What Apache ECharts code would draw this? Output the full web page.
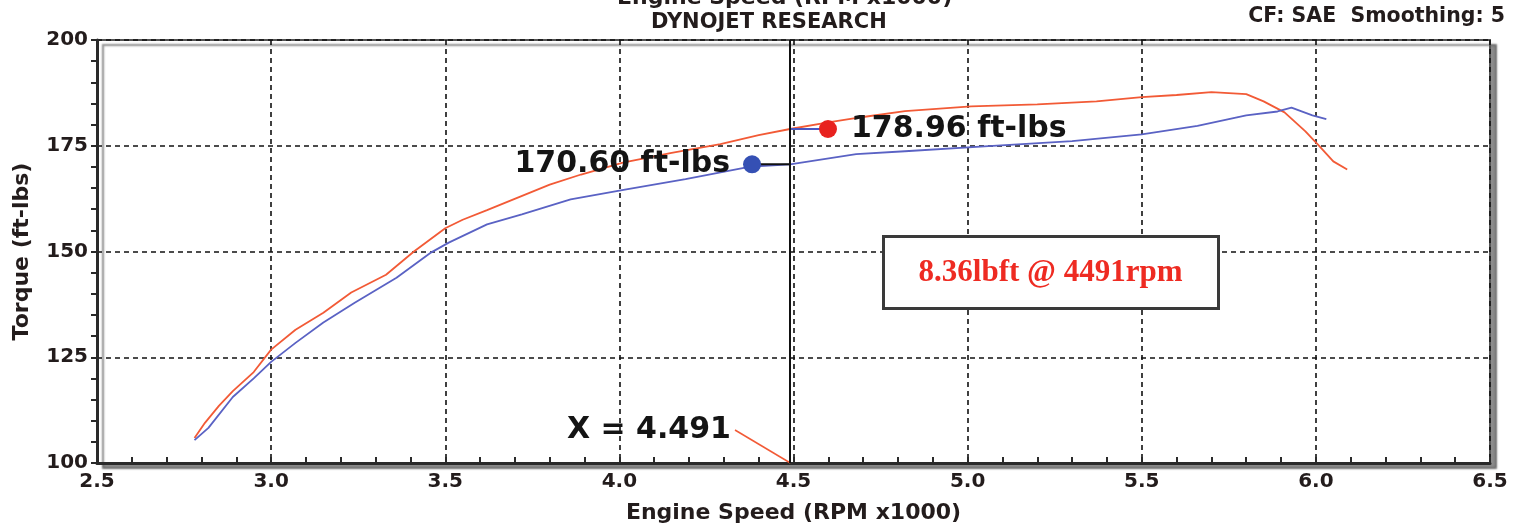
<!DOCTYPE html>
<html>
<head>
<meta charset="utf-8">
<script src="https://cdn.jsdelivr.net/npm/echarts@6/dist/echarts.min.js"></script>
<style>html,body{margin:0;padding:0;background:#fff}#c{width:1536px;height:525px}</style>
</head>
<body>
<div id="c"></div>
<script>
// ---- data ----
const redRpm = [2.78,2.81,2.85,2.89,2.95,3.00,3.07,3.15,3.23,3.33,3.41,3.50,3.55,3.62,3.71,3.80,3.89,4.01,4.15,4.29,4.40,4.49,4.60,4.70,4.82,5.01,5.20,5.37,5.50,5.60,5.70,5.80,5.85,5.91,5.97,6.01,6.05,6.09];
const redTq  = [105.9,109.5,113.5,117.0,121.5,126.8,131.5,135.5,140.3,144.5,150.0,155.5,157.5,159.8,162.8,165.8,168.2,171.0,173.3,175.4,177.5,178.96,180.5,181.8,183.2,184.3,184.8,185.5,186.5,187.0,187.7,187.2,185.5,182.9,178.4,174.9,171.3,169.4];
const blueRpm = [2.78,2.82,2.89,2.95,3.00,3.07,3.15,3.24,3.36,3.46,3.51,3.62,3.72,3.86,4.02,4.19,4.38,4.49,4.68,4.82,5.06,5.30,5.50,5.66,5.80,5.89,5.93,5.99,6.03];
const blueTq  = [105.4,108.3,115.6,120.0,123.9,128.4,133.2,137.9,143.8,149.8,152.1,156.4,158.8,162.3,164.7,167.1,170.1,170.6,173.0,173.7,174.9,176.1,177.7,179.7,182.2,183.1,184.0,182.2,181.3];
const cursorX = 4.491;
const cursorVals = [170.60, 178.96];          // blue, red readings at cursor
const cursorLabels = ['170.60 ft-lbs', '178.96 ft-lbs'];
const dotRpm = [4.381, 4.599];                 // where the reading dots are drawn
const xLabelAnchor = [4.332, 107.8];           // start of "X = 4.491" leader
const xTicks = [2.5, 3.0, 3.5, 4.0, 4.5, 5.0, 5.5, 6.0, 6.5];
const yTicks = [100, 125, 150, 175, 200];
const deltaText = '8.36lbft @ 4491rpm';

const FONT = 'DejaVu Sans';
const TXT = '#231c1c';
const chart = echarts.init(document.getElementById('c'));
const zip = (a, b) => a.map((v, i) => [v, b[i]]);

const option = {
  animation: false,
  backgroundColor: '#fff',
  grid: {
    left: 97, right: 46, top: 40, bottom: 62,
    outerBoundsMode: 'none',
    show: true, backgroundColor: '#fff',
    borderColor: '#555', borderWidth: 2,
    shadowColor: 'rgba(0,0,0,0.45)', shadowOffsetX: 6, shadowOffsetY: 5, shadowBlur: 2
  },
  xAxis: {
    type: 'value', min: xTicks[0], max: xTicks[xTicks.length - 1], interval: 0.5,
    name: 'Engine Speed (RPM x1000)', nameLocation: 'middle', nameGap: 39,
    nameTextStyle: { fontFamily: FONT, fontWeight: 'bold', fontSize: 22, color: TXT },
    axisLine: { show: true, lineStyle: { color: '#2a2a2a', width: 3 } },
    axisTick: { show: true, inside: true, length: 6, lineStyle: { color: '#2a2a2a', width: 2 } },
    minorTick: { show: true, splitNumber: 5, length: 6, lineStyle: { color: '#2a2a2a', width: 2 } },
    axisLabel: { fontFamily: FONT, fontWeight: 'bold', fontSize: 20, color: TXT, margin: 9,
      formatter: v => v.toFixed(1) },
    splitLine: { show: true, lineStyle: { color: '#111', width: 1.6, type: [5, 4] } }
  },
  yAxis: {
    type: 'value', min: yTicks[0], max: yTicks[yTicks.length - 1], interval: 25,
    name: 'Torque (ft-lbs)', nameLocation: 'middle', nameGap: 64,
    nameTextStyle: { fontFamily: FONT, fontWeight: 'bold', fontSize: 22, color: TXT },
    axisLine: { show: true, lineStyle: { color: '#2a2a2a', width: 3 } },
    axisTick: { show: true, inside: false, length: 6, lineStyle: { color: '#2a2a2a', width: 2 } },
    minorTick: { show: true, splitNumber: 5, length: 6, lineStyle: { color: '#2a2a2a', width: 2 } },
    axisLabel: { fontFamily: FONT, fontWeight: 'bold', fontSize: 20, color: TXT, margin: 9 },
    splitLine: { show: true, lineStyle: { color: '#111', width: 1.6, type: [5, 4] } }
  },
  series: [
    {
      name: 'run2', type: 'line', data: zip(redRpm, redTq), showSymbol: false, symbol: 'none',
      lineStyle: { color: '#f25a36', width: 1.8 }, z: 3,
      markLine: {
        silent: true, symbol: 'none', label: { show: false },
        lineStyle: { color: '#111', width: 2, type: 'solid' },
        data: [{ xAxis: cursorX }]
      }
    },
    {
      name: 'run1', type: 'line', data: zip(blueRpm, blueTq), showSymbol: false, symbol: 'none',
      lineStyle: { color: '#5a62c4', width: 1.8 }, z: 3
    },
    {
      name: 'blueConn', type: 'line', symbol: 'none', z: 4,
      data: [[dotRpm[0], cursorVals[0]], [cursorX, cursorVals[0]]],
      lineStyle: { color: '#111', width: 2 }
    },
    {
      name: 'redConn', type: 'line', symbol: 'none', z: 4,
      data: [[cursorX, cursorVals[1]], [dotRpm[1], cursorVals[1]]],
      lineStyle: { color: '#4a55c0', width: 2 }
    },
    {
      name: 'leader', type: 'line', symbol: 'none', z: 4,
      data: [xLabelAnchor, [cursorX, yTicks[0]]],
      lineStyle: { color: '#f25a36', width: 1.5 }
    },
    {
      name: 'dots', type: 'scatter', symbolSize: 18, z: 6,
      itemStyle: { opacity: 1 },
      data: [
        { value: [dotRpm[0], cursorVals[0]], itemStyle: { color: '#3550b4', opacity: 1 },
          label: { show: true, position: 'left', distance: 13, formatter: cursorLabels[0] } },
        { value: [dotRpm[1], cursorVals[1]], itemStyle: { color: '#e8221f', opacity: 1 },
          label: { show: true, position: 'right', distance: 14, formatter: cursorLabels[1] } }
      ],
      label: { fontFamily: FONT, fontWeight: 'bold', fontSize: 30, color: '#141414', opacity: 1 }
    },
    {
      name: 'xlabel', type: 'scatter', symbolSize: 0, z: 6,
      itemStyle: { opacity: 1 },
      data: [{ value: xLabelAnchor }],
      label: { show: true, position: 'left', distance: 4, formatter: 'X = ' + cursorX.toFixed(3),
        fontFamily: FONT, fontWeight: 'bold', fontSize: 30, color: '#141414', opacity: 1 }
    }
  ],
  graphic: [
    { type: 'text', left: 617, top: -13, z: 10,
      style: { text: 'Engine Speed (RPM x1000)', fontFamily: FONT, fontWeight: 'bold', fontSize: 22, fill: TXT } },
    { type: 'text', left: 651, top: 12, z: 10,
      style: { text: 'DYNOJET RESEARCH', fontFamily: FONT, fontWeight: 'bold', fontSize: 21, fill: TXT } },
    { type: 'text', right: 31, top: 6, z: 10,
      style: { text: 'CF: SAE  Smoothing: 5', fontFamily: FONT, fontWeight: 'bold', fontSize: 20.5, fill: TXT } },
    { type: 'group', left: 882, top: 235, z: 10,
      children: [
        { type: 'rect', x: 0, y: 0, z: 10,
          shape: { x: 0, y: 0, width: 335, height: 72 },
          style: { fill: '#fff', stroke: '#3a3a3a', lineWidth: 3 } },
        { type: 'text', x: 167, y: 36, z: 11,
          style: { text: deltaText, align: 'center', verticalAlign: 'middle',
            fontFamily: 'Liberation Serif', fontWeight: 'bold', fontSize: 31, fill: '#ee2b22' } }
      ] }
  ]
};
chart.setOption(option);
</script>
</body>
</html>
